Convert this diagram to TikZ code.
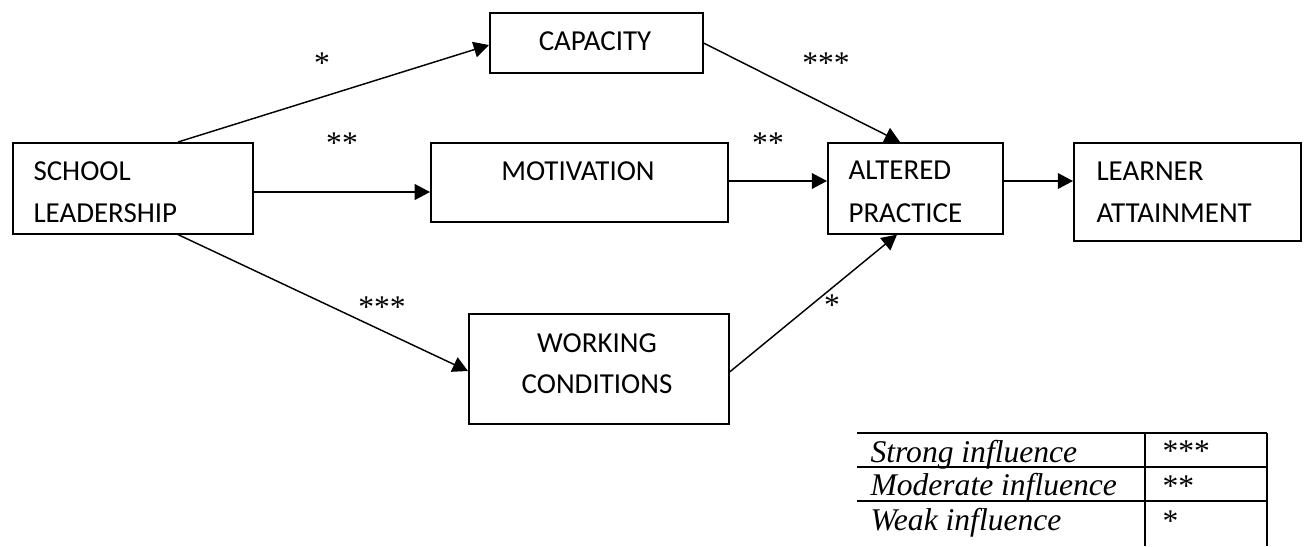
\documentclass[tikz,border=0pt]{standalone}
\usepackage{fontspec}
\setmainfont{Liberation Serif}
\newfontfamily\boxfont{Carlito}
\usetikzlibrary{arrows.meta}
\begin{document}
\begin{tikzpicture}[x=0.38pt,y=-0.38pt,
  box/.style={draw,line width=0.6pt,anchor=north west,inner sep=0pt},
  boxtext/.style={font=\boxfont\fontsize{11}{13}\selectfont,inner sep=0pt},
  star/.style={font=\fontsize{12}{14}\selectfont,inner sep=0pt,anchor=base},
  keytext/.style={font=\itshape\fontsize{12}{14}\selectfont,inner sep=0pt,anchor=base west},
  keystar/.style={font=\fontsize{12}{14}\selectfont,inner sep=0pt,anchor=base west},
  link/.style={line width=0.55pt,-{Triangle[length=5.8pt,width=6pt]}},
  rule/.style={line width=0.6pt}]
\useasboundingbox (0,0) rectangle (1306,546);

% boxes
\node[box,minimum width=240*0.38pt,minimum height=91*0.38pt] (sl) at (12,142) {};
\node[box,minimum width=213*0.38pt,minimum height=60*0.38pt] (cap) at (489,12) {};
\node[box,minimum width=297*0.38pt,minimum height=79*0.38pt] (mot) at (430,142) {};
\node[box,minimum width=260*0.38pt,minimum height=110*0.38pt] (wc) at (468,313) {};
\node[box,minimum width=175*0.38pt,minimum height=91*0.38pt] (alt) at (827,142) {};
\node[box,minimum width=227*0.38pt,minimum height=98*0.38pt] (la) at (1073,142) {};

% box labels
\node[boxtext,anchor=base west] (sl1) at (33,180) {SCHOOL};
\node[boxtext,anchor=base west] (sl2) at (33,222) {LEADERSHIP};
\node[boxtext,anchor=base] (cap1) at (595,50) {CAPACITY};
\node[boxtext,anchor=base] (mot1) at (578,180) {MOTIVATION};
\node[boxtext,anchor=base] (wc1) at (597,352) {WORKING};
\node[boxtext,anchor=base] (wc2) at (597,393) {CONDITIONS};
\node[boxtext,anchor=base west] (alt1) at (848,179) {ALTERED};
\node[boxtext,anchor=base west] (alt2) at (848,222) {PRACTICE};
\node[boxtext,anchor=base west] (la1) at (1096,180) {LEARNER};
\node[boxtext,anchor=base west] (la2) at (1096,222) {ATTAINMENT};

% connectors
\draw[link] ([xshift=166*0.38pt]sl.north west) -- ([yshift=-33*0.38pt]cap.north west);
\draw[link] ([yshift=-50*0.38pt]sl.north east) -- ([yshift=-50*0.38pt]mot.north west);
\draw[link] ([xshift=166*0.38pt]sl.south west) -- ([yshift=-58*0.38pt]wc.north west);
\draw[link] ([yshift=-31*0.38pt]cap.north east) -- ([xshift=73*0.38pt]alt.north west);
\draw[link] ([yshift=-39*0.38pt]mot.north east) -- ([yshift=-39*0.38pt]alt.north west);
\draw[link] ([yshift=-59*0.38pt]wc.north east) -- ([xshift=70*0.38pt]alt.south west);
\draw[link] ([yshift=-39*0.38pt]alt.north east) -- ([yshift=-39*0.38pt]la.north west);

% strength marks
\node[star] (s1) at (322,73) {*};
\node[star] (s2) at (342,153) {**};
\node[star] (s3) at (382,317) {***};
\node[star] (s4) at (826,73) {***};
\node[star] (s5) at (768,153) {**};
\node[star] (s6) at (832,315) {*};

% key
\draw[rule] (857,433) -- (1267,433);
\draw[rule] (857,467) -- (1267,467);
\draw[rule] (857,501) -- (1267,501);
\draw[rule] (1145,433) -- (1145,546);
\draw[rule] (1267,433) -- (1267,546);
\node[keytext] (k1) at (870,462) {Strong influence};
\node[keytext] (k2) at (870,495) {Moderate influence};
\node[keytext] (k3) at (870,530) {Weak influence};
\node[keystar] (k4) at (1162,461) {***};
\node[keystar] (k5) at (1162,496) {**};
\node[keystar] (k6) at (1162,531) {*};
\end{tikzpicture}
\end{document}
